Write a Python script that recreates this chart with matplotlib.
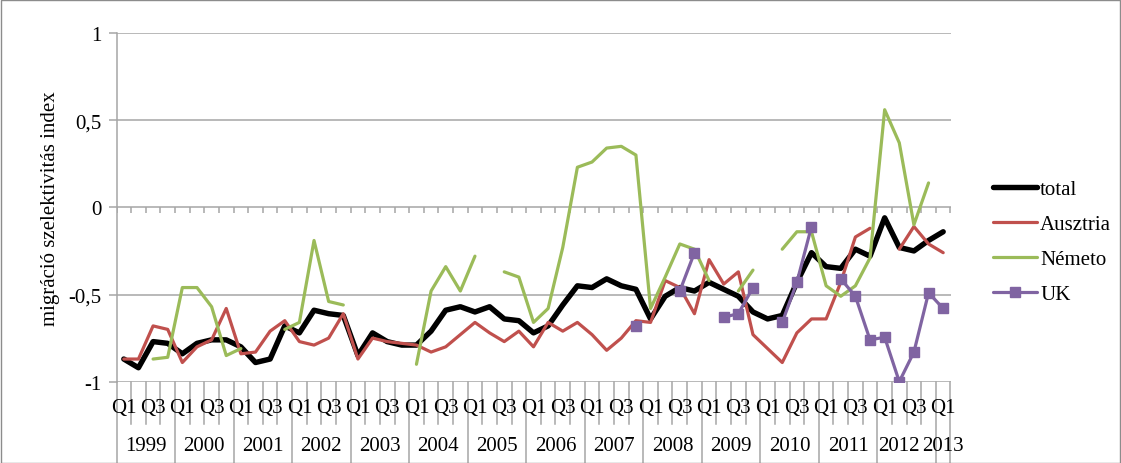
import numpy as np
import matplotlib
matplotlib.use("Agg")
import matplotlib.pyplot as plt
from matplotlib.lines import Line2D
from matplotlib.patches import Rectangle
import matplotlib.transforms as mtransforms

nan = np.nan
years = ["1999", "2000", "2001", "2002", "2003", "2004", "2005", "2006",
         "2007", "2008", "2009", "2010", "2011", "2012", "2013"]
quarters = ["Q1", "Q2", "Q3", "Q4"]

total = [-0.87, -0.92, -0.77, -0.78, -0.84, -0.78, -0.76, -0.76,
         -0.80, -0.89, -0.87, -0.68, -0.72, -0.59, -0.61, -0.62,
         -0.85, -0.72, -0.77, -0.79, -0.79, -0.71, -0.59, -0.57,
         -0.60, -0.57, -0.64, -0.65, -0.72, -0.68, -0.56, -0.45,
         -0.46, -0.41, -0.45, -0.47, -0.64, -0.51, -0.46, -0.48,
         -0.43, -0.47, -0.51, -0.60, -0.64, -0.62, -0.43, -0.26,
         -0.34, -0.35, -0.24, -0.28, -0.06, -0.23, -0.25, -0.19,
         -0.14]
ausztria = [-0.87, -0.87, -0.68, -0.70, -0.89, -0.80, -0.76, -0.58,
            -0.84, -0.83, -0.71, -0.65, -0.77, -0.79, -0.75, -0.61,
            -0.87, -0.75, -0.77, -0.78, -0.79, -0.83, -0.80, -0.73,
            -0.66, -0.72, -0.77, -0.71, -0.80, -0.66, -0.71, -0.66,
            -0.73, -0.82, -0.75, -0.65, -0.66, -0.42, -0.46, -0.61,
            -0.30, -0.44, -0.37, -0.73, -0.81, -0.89, -0.72, -0.64,
            -0.64, -0.43, -0.17, -0.12, nan, -0.24, -0.11, -0.21,
            -0.26]
nemeto = [nan, nan, -0.87, -0.86, -0.46, -0.46, -0.57, -0.85,
          -0.81, nan, nan, -0.70, -0.66, -0.19, -0.54, -0.56,
          nan, nan, nan, nan, -0.90, -0.48, -0.34, -0.48,
          -0.28, nan, -0.37, -0.40, -0.66, -0.58, -0.23, 0.23,
          0.26, 0.34, 0.35, 0.30, -0.58, -0.40, -0.21, -0.24,
          -0.42, nan, -0.48, -0.36, nan, -0.24, -0.14, -0.14,
          -0.45, -0.51, -0.45, -0.29, 0.56, 0.37, -0.10, 0.14,
          nan]
uk = [nan] * 35 + [-0.68, nan, nan, -0.48, -0.26, nan, -0.63, -0.61,
                   -0.46, nan, -0.66, -0.43, -0.11, nan, -0.41, -0.51,
                   -0.76, -0.745, -1.00, -0.83, -0.49, -0.58]

n = len(total)
q_labels = [quarters[i % 4] for i in range(n)]

FS = 15
W, H = 1121, 464
fig = plt.figure(figsize=(W / 100, H / 100), dpi=100)
plt.rcParams['font.family'] = ['Liberation Serif', 'DejaVu Serif']

left_px, right_px, top_px, bot_px = 116.5, 950.5, 34.0, 382.7
ax = fig.add_axes([left_px / W, 1 - bot_px / H, (right_px - left_px) / W,
                   (bot_px - top_px) / H])

x = np.arange(n)
grid_c = '#a6a6a6'
ax.set_xlim(-0.5, n - 0.5)
ax.set_ylim(-1, 1)
yt = [-1, -0.5, 0, 0.5, 1]
ax.set_yticks(yt)
ax.set_yticklabels(["-1", "-0,5", "0", "0,5", "1"], fontsize=FS)
for v in yt:
    ax.axhline(v, color=grid_c, lw=1.1, zorder=0)
ax.tick_params(axis='y', length=6, color=grid_c, width=1.1, pad=5)
ax.set_xticks([])
for s in ['top', 'right', 'bottom']:
    ax.spines[s].set_visible(False)
ax.spines['left'].set_color(grid_c)
ax.spines['left'].set_linewidth(1.1)

# small ticks on the zero axis at category boundaries
bounds = np.arange(n + 1) - 0.5
ax.vlines(bounds, -0.035, 0, color=grid_c, lw=1.1, zorder=0)

kw = dict(solid_joinstyle='round', solid_capstyle='round')
ax.plot(x, total, color='black', lw=3.9, label='total', zorder=3, **kw)
ax.plot(x, ausztria, color='#C0504D', lw=2.3, label='Ausztria', zorder=4, **kw)
ax.plot(x, nemeto, color='#9BBB59', lw=2.3, label='Németo', zorder=5, **kw)
ax.plot(x, uk, color='#8064A2', lw=2.3, marker='s', markersize=6.5,
        label='UK', zorder=6, **kw)

trans = mtransforms.blended_transform_factory(ax.transData, ax.transAxes)
ax_h = bot_px - top_px
q_len = (425 - bot_px) / ax_h
y_len = (464 - bot_px) / ax_h
for k, b in enumerate(bounds):
    L = y_len if (k % 4 == 0 or k == n) else q_len
    ax.add_line(Line2D([b, b], [0, -L], transform=trans, color=grid_c,
                       lw=1.1, clip_on=False))
q_y = -(408 - bot_px) / ax_h
for i in range(0, n, 2):
    ax.text(x[i], q_y, q_labels[i], transform=trans, ha='center',
            va='center', fontsize=FS)
yr_y = -(447 - bot_px) / ax_h
for j, yr in enumerate(years):
    start = j * 4
    end = min(start + 4, n)
    xc = (start + end - 1) / 2
    if j == len(years) - 2:
        xc -= 0.5  # nudge so it does not collide with the last year label
    ax.text(xc, yr_y, yr, transform=trans, ha='center',
            va='center', fontsize=FS)

ax.set_ylabel("migráció szelektivitás index", fontsize=FS, labelpad=6)

leg = fig.legend(loc='upper left', bbox_to_anchor=(985 / W, 1 - 172 / H),
                 frameon=False, fontsize=FS, handlelength=2.1,
                 labelspacing=0.74, handletextpad=0.15, borderaxespad=0)

fig.add_artist(Rectangle((0.5 / W, 0.5 / H), (W - 1.5) / W, (H - 1) / H,
                         transform=fig.transFigure, fill=False,
                         edgecolor='#8c8c8c', lw=1.0))

fig.savefig("out.png", dpi=100)
